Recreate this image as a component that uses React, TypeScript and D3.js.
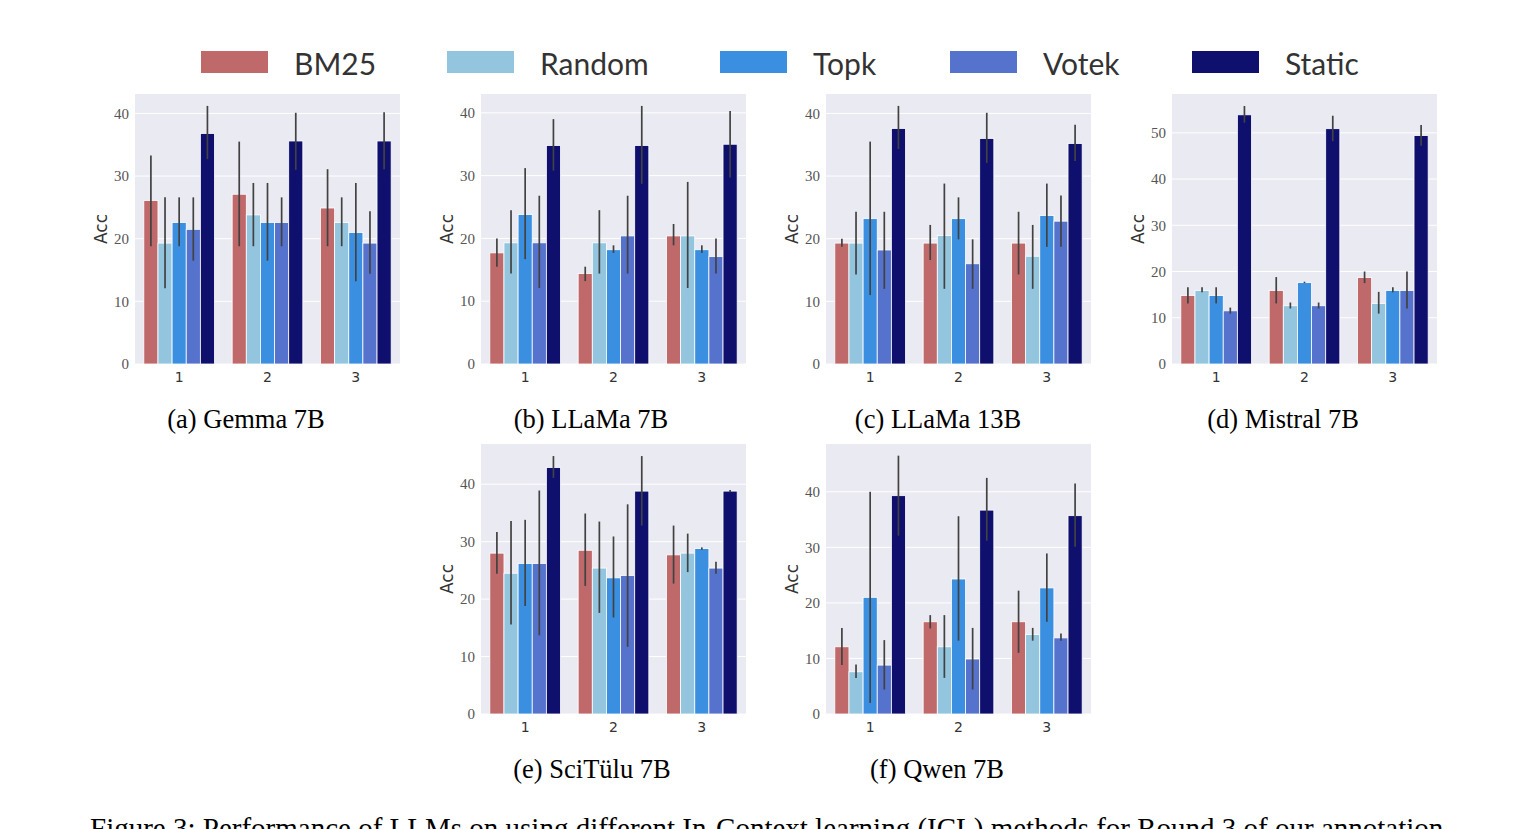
import { useMemo } from 'react';
import * as d3 from 'd3';

const methods = ['BM25', 'Random', 'Topk', 'Votek', 'Static'];
const colors = ['#c0696a', '#93c6de', '#3b8fe0', '#5572cc', '#0f0f6e'];
const groups = ['1', '2', '3'];

// mean / lower / upper of the error bar, one row per group, one column per method
const gemmaMean = [[26.1, 19.3, 22.6, 21.5, 36.8], [27.1, 23.8, 22.6, 22.6, 35.6], [24.9, 22.6, 21.0, 19.3, 35.6]];
const gemmaLo = [[18.8, 12.1, 18.8, 16.5, 32.7], [18.8, 18.8, 16.5, 18.8, 31.0], [18.8, 18.8, 13.2, 14.4, 31.1]];
const gemmaHi = [[33.3, 26.6, 26.6, 26.6, 41.2], [35.5, 28.9, 28.9, 26.6, 40.1], [31.1, 26.6, 28.9, 24.4, 40.2]];

const llama7Mean = [[17.7, 19.3, 23.8, 19.3, 34.8], [14.4, 19.3, 18.2, 20.4, 34.8], [20.4, 20.4, 18.2, 17.1, 35.0]];
const llama7Lo = [[15.5, 14.4, 16.7, 12.1, 30.8], [13.2, 14.4, 17.7, 14.4, 28.7], [18.9, 12.1, 17.7, 14.4, 29.7]];
const llama7Hi = [[20.0, 24.5, 31.2, 26.8, 39.0], [15.5, 24.5, 18.9, 26.8, 41.1], [22.3, 29.0, 18.9, 20.0, 40.3]];

const llama13Mean = [[19.3, 19.3, 23.2, 18.2, 37.6], [19.3, 20.5, 23.2, 16.0, 36.0], [19.3, 17.2, 23.7, 22.8, 35.2]];
const llama13Lo = [[18.7, 14.3, 11.0, 12.0, 34.3], [16.6, 12.0, 19.9, 12.0, 32.1], [14.3, 12.0, 18.7, 18.7, 32.4]];
const llama13Hi = [[20.0, 24.3, 35.5, 24.3, 41.2], [22.2, 28.8, 26.6, 19.9, 40.1], [24.3, 22.2, 28.8, 26.9, 38.2]];

const mistralMean = [[14.8, 15.9, 14.8, 11.5, 53.9], [15.9, 12.6, 17.6, 12.6, 50.9], [18.7, 13.1, 15.9, 15.9, 49.4]];
const mistralLo = [[13.1, 15.5, 13.1, 10.9, 52.2], [13.1, 12.0, 17.5, 12.0, 48.2], [17.5, 10.9, 15.5, 12.0, 47.2]];
const mistralHi = [[16.6, 16.6, 16.6, 12.2, 55.8], [18.8, 13.3, 17.8, 13.3, 53.7], [20.0, 15.6, 16.6, 20.0, 51.7]];

const tuluMean = [[28.0, 24.5, 26.2, 26.2, 42.9], [28.5, 25.4, 23.7, 24.1, 38.8], [27.7, 28.0, 28.8, 25.4, 38.8]];
const tuluLo = [[24.4, 15.6, 18.8, 13.7, 41.1], [22.3, 17.6, 16.8, 11.7, 32.8], [22.7, 24.7, 28.6, 24.4, 38.6]];
const tuluHi = [[31.7, 33.6, 33.8, 38.9, 44.9], [34.9, 33.5, 30.9, 36.5, 44.9], [32.8, 31.4, 29.0, 26.5, 39.0]];

const qwenMean = [[12.1, 7.6, 21.0, 8.8, 39.3], [16.6, 12.1, 24.3, 9.9, 36.7], [16.6, 14.3, 22.7, 13.7, 35.7]];
const qwenLo = [[8.8, 6.5, 2.0, 4.4, 32.1], [15.4, 6.5, 13.2, 4.4, 31.2], [11.0, 13.2, 16.6, 13.2, 30.1]];
const qwenHi = [[15.5, 8.9, 40.0, 13.3, 46.5], [17.8, 17.8, 35.6, 15.5, 42.5], [22.2, 15.5, 28.9, 14.5, 41.5]];

const ticks40 = [0, 10, 20, 30, 40];
const ticks50 = [0, 10, 20, 30, 40, 50];

const W = 265;
const H = 270;

type PanelProps = {
  x: number;
  y: number;
  mean: number[][];
  lo: number[][];
  hi: number[][];
  yMax: number;
  ticks: number[];
  title: string;
  capX: number;
};

const Panel = ({ x, y, mean, lo, hi, yMax, ticks, title, capX }: PanelProps) => {
  const gx = useMemo(() => d3.scaleBand().domain(groups).range([0, W]).paddingInner(0.2).paddingOuter(0.1), []);
  const bx = useMemo(() => d3.scaleBand().domain(methods).range([0, gx.bandwidth()]), [gx]);
  const ys = useMemo(() => d3.scaleLinear().domain([0, yMax]).range([H, 0]), [yMax]);

  return (
    <g>
      <g transform={`translate(${x},${y})`}>
        <rect width={W} height={H} fill="#eaeaf2" />
        {ticks.map((t) => (
          <g key={t}>
            <line x1={0} x2={W} y1={ys(t)} y2={ys(t)} stroke="#fff" strokeWidth={1} />
            <text
              x={-6}
              y={ys(t)}
              dy="0.35em"
              textAnchor="end"
              fontFamily="'Liberation Serif', serif"
              fontSize={15}
              fill="#555"
            >
              {t}
            </text>
          </g>
        ))}
        {groups.map((g, gi) => (
          <g key={g} transform={`translate(${gx(g)},0)`}>
            {methods.map((m, mi) => (
              <rect
                key={m}
                x={bx(m)}
                y={ys(mean[gi][mi])}
                width={bx.bandwidth()}
                height={H - ys(mean[gi][mi])}
                fill={colors[mi]}
                stroke="#fff"
                strokeWidth={0.8}
              />
            ))}
            {methods.map((m, mi) => (
              <line
                key={m}
                x1={bx(m)! + bx.bandwidth() / 2}
                x2={bx(m)! + bx.bandwidth() / 2}
                y1={ys(lo[gi][mi])}
                y2={ys(hi[gi][mi])}
                stroke="#424242"
                strokeWidth={1.7}
              />
            ))}
            <text
              x={gx.bandwidth() / 2}
              y={H + 18}
              textAnchor="middle"
              fontFamily="'DejaVu Sans', sans-serif"
              fontSize={14}
              fill="#333"
            >
              {g}
            </text>
          </g>
        ))}
        <text
          transform={`translate(${-28},${H / 2}) rotate(-90)`}
          textAnchor="middle"
          fontFamily="'DejaVu Sans', sans-serif"
          fontSize={17}
          fill="#333"
        >
          Acc
        </text>
      </g>
      <text
        x={capX}
        y={y + H + 64}
        textAnchor="middle"
        fontFamily="'Liberation Serif', serif"
        fontSize={26.5}
        fill="#000"
      >
        {title}
      </text>
    </g>
  );
};

const legendX = [201, 447, 720, 950, 1192];

export default function App() {
  return (
    <div style={{ position: 'absolute', left: 0, top: 0 }}>
      <svg width={1531} height={829} style={{ display: 'block', background: '#fff' }}>
        {methods.map((m, i) => (
          <g key={m}>
            <rect x={legendX[i]} y={51} width={67} height={22} fill={colors[i]} />
            <text
              x={legendX[i] + 93}
              y={75}
              fontFamily="Lato, 'DejaVu Sans', sans-serif"
              fontSize={30}
              fill="#333"
            >
              {m}
            </text>
          </g>
        ))}
        <Panel x={135} y={94} mean={gemmaMean} lo={gemmaLo} hi={gemmaHi} yMax={43.1} ticks={ticks40} title="(a) Gemma 7B" capX={246} />
        <Panel x={481} y={94} mean={llama7Mean} lo={llama7Lo} hi={llama7Hi} yMax={43.0} ticks={ticks40} title="(b) LLaMa 7B" capX={591} />
        <Panel x={826} y={94} mean={llama13Mean} lo={llama13Lo} hi={llama13Hi} yMax={43.1} ticks={ticks40} title="(c) LLaMa 13B" capX={938} />
        <Panel x={1172} y={94} mean={mistralMean} lo={mistralLo} hi={mistralHi} yMax={58.4} ticks={ticks50} title="(d) Mistral 7B" capX={1283} />
        <Panel x={481} y={444} mean={tuluMean} lo={tuluLo} hi={tuluHi} yMax={47.0} ticks={ticks40} title="(e) SciTülu 7B" capX={592} />
        <Panel x={826} y={444} mean={qwenMean} lo={qwenLo} hi={qwenHi} yMax={48.6} ticks={ticks40} title="(f) Qwen 7B" capX={937} />
        <text x={90} y={838} fontFamily="'Liberation Serif', serif" fontSize={29} fill="#000">
          Figure 3: Performance of LLMs on using different In-Context learning (ICL) methods for Round 3 of our annotation
        </text>
      </svg>
    </div>
  );
}
